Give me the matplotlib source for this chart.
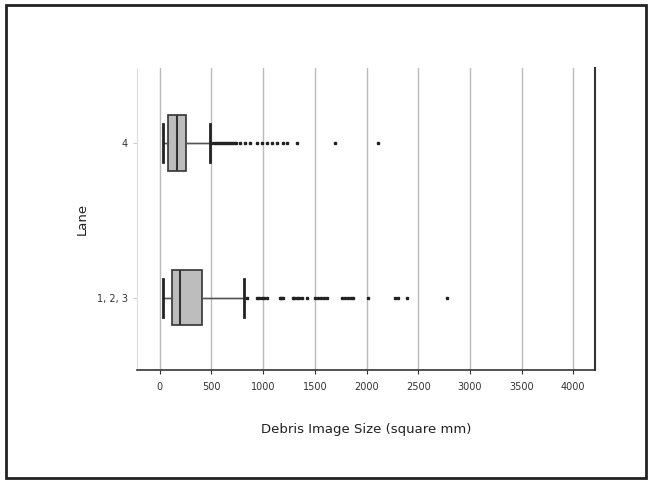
import numpy as np
import matplotlib.pyplot as plt
from matplotlib.patches import Rectangle

# box statistics (square mm)
lanes = ["1, 2, 3", "4"]
whislo = [29, 30]
q1 = [116, 78]
med = [194, 165]
q3 = [407, 252]
whishi = [813, 485]
fliers = [
    [842, 940, 960, 985, 1010, 1036, 1162, 1175, 1191, 1288, 1300, 1330, 1350,
     1380, 1423, 1500, 1530, 1560, 1590, 1617, 1762, 1790, 1820, 1850, 1868,
     2014, 2275, 2304, 2391, 2778],
    [500, 520, 540, 560, 580, 600, 620, 640, 660, 680, 700, 720, 740, 775,
     820, 870, 940, 990, 1035, 1085, 1130, 1190, 1230, 1325, 1695, 2110],
]

stats = []
for i in range(len(lanes)):
    stats.append(dict(whislo=whislo[i], q1=q1[i], med=med[i], q3=q3[i],
                      whishi=whishi[i], fliers=fliers[i], label=lanes[i]))

fig = plt.figure(figsize=(6.51, 4.82), dpi=100)
ax = fig.add_axes([137 / 651, 1 - 370 / 482, (595 - 137) / 651, (370 - 68) / 482])

ax.bxp(stats, positions=[0, 1], vert=False, widths=0.355, patch_artist=True,
       boxprops=dict(facecolor='#bdbdbd', edgecolor='#333333', linewidth=1.2),
       medianprops=dict(color='#333333', linewidth=1.5),
       whiskerprops=dict(color='#555555', linewidth=1),
       capprops=dict(color='#222222', linewidth=2),
       capwidths=0.25,
       flierprops=dict(marker='s', markersize=2, markerfacecolor='#222222',
                       markeredgecolor='#222222', linestyle='none'),
       zorder=3)

# whisker line drawn across the box too
for i in range(len(lanes)):
    ax.plot([whislo[i], whishi[i]], [i, i], color='#555555', lw=1, zorder=2)

ax.set_xlim(-220, 4210)
ax.set_ylim(-0.465, 1.484)
ax.set_xticks(np.arange(0, 4001, 500))
ax.set_yticks([0, 1])
ax.set_yticklabels(lanes)
ax.grid(axis='x', color='#bbbbbb', linewidth=1, zorder=0)
ax.set_axisbelow(True)

ax.spines['top'].set_visible(False)
ax.spines['left'].set_color('#dddddd')
ax.spines['bottom'].set_color('#333333')
ax.spines['right'].set_color('#333333')
ax.spines['bottom'].set_linewidth(1.2)
ax.spines['right'].set_linewidth(1.5)
ax.tick_params(axis='x', colors='#333333', labelsize=7, length=3, pad=6)
ax.tick_params(axis='y', colors='#cccccc', labelcolor='#333333', labelsize=7, length=3)

ax.set_xlabel("Debris Image Size (square mm)", fontsize=9.5, color='#222222', labelpad=22)
ax.set_ylabel("Lane", fontsize=9.5, color='#222222', labelpad=6)

# outer frame
fig.patches.append(Rectangle((6 / 651, 4 / 482), 640 / 651, 473 / 482,
                             transform=fig.transFigure, fill=False,
                             edgecolor='#222222', linewidth=2))

fig.savefig("out.png", dpi=100)
